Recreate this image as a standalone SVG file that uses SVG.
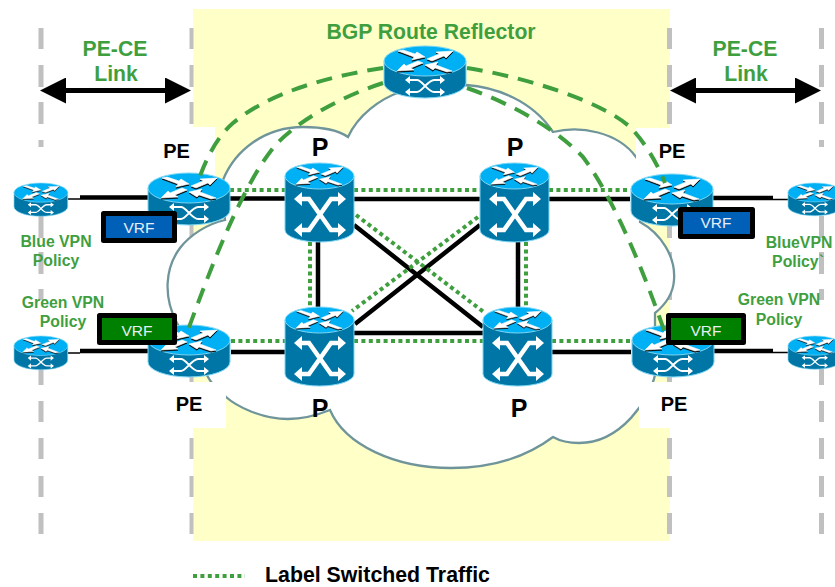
<svg xmlns="http://www.w3.org/2000/svg" xmlns:xlink="http://www.w3.org/1999/xlink" width="835" height="587" viewBox="0 0 835 587">
<style>
text{font-family:"Liberation Sans",Arial,sans-serif;text-anchor:middle}
.g{font-weight:bold;fill:#3f9f3f}
.l{font-size:21.200px}
.s{font-size:15.800px}
.k{font-weight:bold;fill:#000}
.pe{font-size:20px}
.p{font-size:25px}
.v{font-size:15.500px;fill:#e6eef6}
.blk{stroke:#000;stroke-width:4.500;fill:none}
.thin{stroke:#000;stroke-width:1.500;fill:none}
.dot{stroke:#3f9f3f;stroke-width:4;stroke-dasharray:4 3.400;fill:none}
.dash{stroke:#3f9f3f;stroke-width:4;stroke-dasharray:16 10;fill:none}
.gray{stroke:#c0c0c0;fill:none}
.top{fill:#00b0f4;stroke:#7cd6f4;stroke-width:1}
.body{fill:#0076a6;stroke:#7cd6f4;stroke-width:1}
.vb{stroke:#000;stroke-width:5;stroke-linejoin:round}
</style>
<defs>
<marker id="ah" markerUnits="userSpaceOnUse" markerWidth="26" markerHeight="26" refX="0" refY="13" orient="auto-start-reverse" viewBox="0 0 26 26"><path d="M0,0L26,13L0,26Z" fill="#000"/></marker>
<path id="grayp" d="M0,28V49M0,65V87M0,102V124M0,140V147M0,216V238M0,252V274M0,289V300M0,366V385M0,401V422M0,438V459M0,476V497M0,513V534"/>
<g id="arr">
<path d="M14,5L19,4L31,8L33,6L41,11L28,14L30,11ZM43,13L55,8L52,6L69,5L62,12L60,10L48,15ZM39,17L27,22L30,24L13,25L20,18L22,20L34,15ZM68,25L63,26L51,22L49,24L41,19L54,16L52,19Z"/>
</g>
<g id="topicon">
<use href="#arr" transform="translate(0,1.200)" fill="#000" stroke="#000" stroke-width=".6"/>
<use href="#arr" fill="#fff" stroke="#fff" stroke-width=".6"/>
</g>
<g id="router">
<path class="body" d="M0,15V37A41,15 0 0 0 82,37V15Z"/>
<ellipse class="top" cx="41" cy="15" rx="41" ry="15"/>
<use href="#topicon"/>
<path d="M25,34H33C38,34 44,46 50,46H58M25,46H33C38,46 44,34 50,34H58" fill="none" stroke="#fff" stroke-width="2"/>
<path d="M21,34L26,30V38ZM21,46L26,42V50ZM61,34L56,30V38ZM61,46L56,42V50Z" fill="#fff"/>
</g>
<g id="prouter">
<path class="body" d="M0,13V67A34.500,12 0 0 0 69,67V13Z"/>
<ellipse class="top" cx="34.500" cy="13" rx="34.500" ry="13"/>
<use href="#topicon" transform="scale(.84,.85)"/>
<path d="M14,36H24L46,67H56M14,67H24L46,36H56" fill="none" stroke="#fff" stroke-width="4.500"/>
<path d="M9,36L17,29V43ZM9,67L17,60V74ZM61,36L53,29V43ZM61,67L53,60V74Z" fill="#fff"/>
</g>
</defs>

<g id="background">
<rect x="193" y="9" width="477" height="532" fill="#ffffc8"/>
<use href="#grayp" class="gray" stroke-width="5" x="41"/>
<use href="#grayp" class="gray" stroke-width="4" x="191.500"/>
<use href="#grayp" class="gray" stroke-width="5" x="669.500"/>
<use href="#grayp" class="gray" stroke-width="5" x="821.500"/>
<path id="cloud" d="M348,137C358,115 380,99 400,92L466,85C495,87 532,100 553,132C580,125 618,132 636,157L650,180L640,222C660,233 676,256 674,280C673,295 665,305 655,313L655,375C650,398 622,443 579,443C570,443 560,441 553,437C525,458 490,468 451,468C395,468 345,445 330,410C315,416 300,419 288,419C260,419 235,405 226,397C218,390 212,385 208,377L177,323C163,297 165,268 180,248C190,235 207,224 225,220L223,180C235,150 265,127 303,127C320,127 338,130 348,137Z" fill="#fff" stroke="#6f959b" stroke-width="2.300"/>
<rect x="150" y="127" width="65" height="50" fill="#fff"/>
<rect x="636" y="128" width="40" height="50" fill="#fff"/>
<rect x="150" y="382" width="76" height="46" fill="#fff"/>
<rect x="639" y="382" width="36" height="46" fill="#fff"/>
</g>

<g id="connectors">
<path class="thin" d="M68,199H80M68,353H80M773,199.500H788M773,352.500H788"/>
<path class="blk" d="M80,197.500H148M230,198.500H285M354,199H480M549,199H630M713,198H773M80,351H148M231,352H285M354,333H483M552,352H631M714,351H773M318,242V307M518,242V307M354,225L483,327M480,225L355,324"/>
<path class="dot" d="M230,190H285M354,190H480M549,190H630M231,341H285M354,341H483M552,341H631M310,242V307M526,242V307M356,215L485,313M478,217L352,311"/>
<line x1="66" y1="90.500" x2="165" y2="90.500" stroke="#000" stroke-width="5" marker-start="url(#ah)" marker-end="url(#ah)"/>
<line x1="696" y1="90.500" x2="795" y2="90.500" stroke="#000" stroke-width="5" marker-start="url(#ah)" marker-end="url(#ah)"/>
<path class="dot" d="M193,576H245"/>
</g>

<g id="ce-blue-left"><use href="#router" transform="translate(14,183) scale(.655,.64)"/></g>
<g id="ce-green-left"><use href="#router" transform="translate(14,336) scale(.655,.65)"/></g>
<g id="ce-blue-right"><use href="#router" transform="translate(788,183) scale(.655,.63)"/></g>
<g id="ce-green-right"><use href="#router" transform="translate(788,336) scale(.655,.64)"/></g>
<g id="pe-top-left"><use href="#router" transform="translate(148,173)"/></g>
<g id="pe-top-right"><use href="#router" transform="translate(631,174)"/></g>
<g id="pe-bottom-left"><use href="#router" transform="translate(148,325)"/></g>
<g id="pe-bottom-right"><use href="#router" transform="translate(632,325)"/></g>
<g id="p-top-left"><use href="#prouter" transform="translate(285,163)"/></g>
<g id="p-top-right"><use href="#prouter" transform="translate(480,163)"/></g>
<g id="p-bottom-left"><use href="#prouter" transform="translate(285,307)"/></g>
<g id="p-bottom-right"><use href="#prouter" transform="translate(483,307)"/></g>

<g id="bgp-sessions">
<path class="dash" d="M383,68C330,76 270,92 233,123C218,136 208,155 200,176"/>
<path class="dash" d="M383,83C340,97 295,122 273,148C240,190 210,270 188,330"/>
<path class="dash" d="M467,68C520,76 600,100 630,127C645,142 658,165 665,183"/>
<path class="dash" d="M467,88C510,103 555,128 583,157C615,200 645,275 665,333"/>
</g>

<g id="route-reflector"><use href="#router" transform="translate(384,46)"/></g>

<g id="vrf-blue-left"><rect class="vb" x="103.500" y="213.500" width="71" height="27" fill="#0060b8"/><text class="v" x="139" y="233">VRF</text></g>
<g id="vrf-green-left"><rect class="vb" x="99.500" y="315.500" width="75" height="27" fill="#008000"/><text class="v" x="137" y="336">VRF</text></g>
<g id="vrf-blue-right"><rect class="vb" x="680.500" y="209.500" width="72" height="27" fill="#0060b8"/><text class="v" x="716" y="228">VRF</text></g>
<g id="vrf-green-right"><rect class="vb" x="668.500" y="315.500" width="75" height="27" fill="#008000"/><text class="v" x="706" y="336">VRF</text></g>

<g id="labels">
<text class="g l" x="431" y="39">BGP Route Reflector</text>
<text class="g l" x="115" y="56">PE-CE</text>
<text class="g l" x="116" y="81">Link</text>
<text class="g l" x="745" y="56">PE-CE</text>
<text class="g l" x="746" y="81">Link</text>
<text class="k pe" x="176.500" y="158">PE</text>
<text class="k pe" x="672" y="158">PE</text>
<text class="k pe" x="189" y="411">PE</text>
<text class="k pe" x="674" y="411">PE</text>
<text class="k p" x="320" y="156">P</text>
<text class="k p" x="515" y="156">P</text>
<text class="k p" x="320" y="417">P</text>
<text class="k p" x="519" y="417">P</text>
<text class="g s" x="56" y="247">Blue VPN</text>
<text class="g s" x="56" y="266">Policy</text>
<text class="g s" x="63" y="308">Green VPN</text>
<text class="g s" x="63" y="327">Policy</text>
<text class="g s" x="799" y="248">BlueVPN</text>
<text class="g s" x="798" y="267">Policy`</text>
<text class="g s" x="779" y="305">Green VPN</text>
<text class="g s" x="779" y="325">Policy</text>
<text class="k" x="377.500" y="582.400" font-size="21.300">Label Switched Traffic</text>
</g>
</svg>
